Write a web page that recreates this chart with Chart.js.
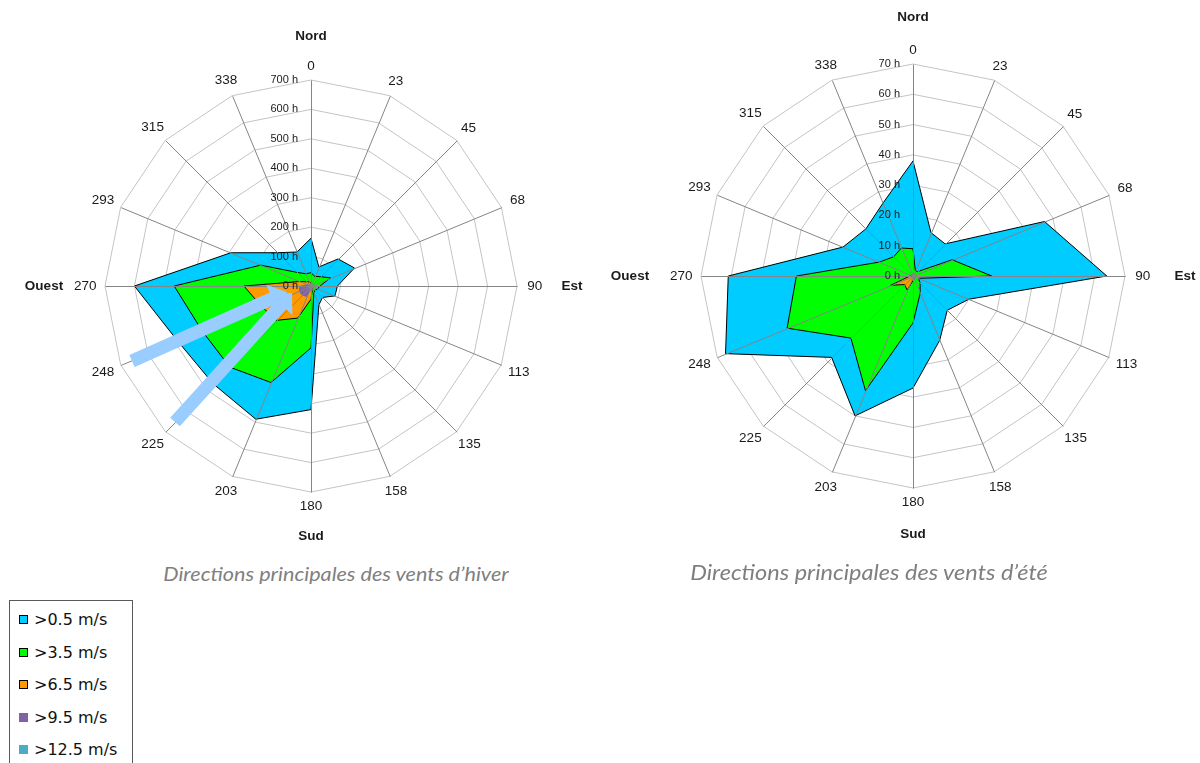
<!DOCTYPE html>
<html>
<head>
<meta charset="utf-8">
<script src="https://cdn.jsdelivr.net/npm/chart.js@4.4.1/dist/chart.umd.min.js"></script>
<style>
  html, body { margin: 0; padding: 0; background: #fff; }
  #page { position: relative; width: 1200px; height: 763px; overflow: hidden; background: #fff; }
  canvas { position: absolute; top: 0; }
  #cHiver { left: 0; }
  #cEte { left: 600px; }
  .caption {
    position: absolute; top: 560px; transform: translateX(-50%) scaleX(1.08);
    font-family: Lato, "Open Sans", sans-serif; font-style: italic; font-size: 20px;
    color: #7f7f7f; white-space: nowrap; line-height: 26px;
  }
  #capEte { font-size: 21px; transform: translateX(-50%) scaleX(1.12); top: 559px; }
  #legend {
    position: absolute; left: 9px; top: 600px; width: 124px; height: 200px;
    border: 1px solid #595959; box-sizing: border-box; background: #fff;
  }
  .row { position: absolute; left: 0; height: 24px; width: 122px; }
  .mark { position: absolute; left: 9px; top: 7px; width: 9px; height: 9px; box-sizing: border-box; }
  .txt {
    position: absolute; left: 24px; top: 0; line-height: 24px; white-space: nowrap;
    font-family: "DejaVu Sans", sans-serif; font-size: 16px; color: #111;
  }
</style>
</head>
<body>
<div id="page">
  <canvas id="cHiver" width="600" height="560"></canvas>
  <canvas id="cEte" width="600" height="560"></canvas>
  <div class="caption" style="left:336px">Directions principales des vents d’hiver</div>
  <div class="caption" id="capEte" style="left:869px">Directions principales des vents d’été</div>
  <div id="legend"></div>
</div>
<script>
// Wind directions (degrees, rounded) shown around each rose
const directions = ['0', '23', '45', '68', '90', '113', '135', '158', '180', '203', '225', '248', '270', '293', '315', '338'];

// Speed classes
const speedClasses = ['>0.5 m/s', '>3.5 m/s', '>6.5 m/s', '>9.5 m/s', '>12.5 m/s'];
const classColors = ['#00CCFF', '#00FF00', '#FF9900', '#8064A2', '#4BACC6'];
const classBorders = [1, 1, 1, 0, 0];

// Winter: hours per direction, by speed class
const hiver05  = [162, 70, 130, 160, 90, 88, 55, 70, 420, 490, 470, 490, 600, 295, 160, 125];
const hiver35  = [45, 35, 45, 72, 30, 25, 20, 25, 210, 355, 390, 400, 465, 185, 65, 45];
const hiver65  = [10, 5, 5, 5, 5, 5, 8, 12, 45, 118, 165, 182, 228, 40, 20, 15];
const hiver95  = [3, 2, 2, 2, 2, 2, 3, 5, 15, 40, 45, 45, 40, 15, 8, 5];
const hiver125 = [1, 0, 0, 0, 0, 0, 1, 1, 3, 5, 8, 8, 6, 3, 2, 1];

// Summer: hours per direction, by speed class
const ete05  = [38, 15.5, 15, 47, 64, 20, 16, 23, 37, 50, 38, 67, 61, 25, 22, 26];
const ete35  = [9, 2, 2, 14, 26, 2, 3.3, 6.2, 15.5, 41, 29, 45, 38.5, 12, 9, 10];
const ete65  = [0.3, 0.2, 0.2, 0.3, 0.5, 0.3, 0.5, 1, 1.5, 5, 4, 8, 1, 0.5, 0.3, 0.3];
const ete95  = [0, 0, 0, 0, 0, 0, 0, 0, 0, 0.3, 0.3, 0.4, 0.2, 0, 0, 0];
const ete125 = [0, 0, 0, 0, 0, 0, 0, 0, 0, 0, 0, 0, 0, 0, 0, 0];

// Radial axis ticks (hours)
const hiverTicks = { max: 700, step: 100 };
const eteTicks = { max: 70, step: 10 };

// Compass names
const compass = ['Nord', 'Est', 'Sud', 'Ouest'];

function drawArrow(ctx, x1, y1, x2, y2, shaftHalf, headHalf, headLen) {
  const dx = x2 - x1, dy = y2 - y1, L = Math.hypot(dx, dy);
  const ux = dx / L, uy = dy / L, nx = -uy, ny = ux;
  const bx = x2 - ux * headLen, by = y2 - uy * headLen;
  ctx.beginPath();
  ctx.moveTo(x1 + nx * shaftHalf, y1 + ny * shaftHalf);
  ctx.lineTo(bx + nx * shaftHalf, by + ny * shaftHalf);
  ctx.lineTo(bx + nx * headHalf, by + ny * headHalf);
  ctx.lineTo(x2, y2);
  ctx.lineTo(bx - nx * headHalf, by - ny * headHalf);
  ctx.lineTo(bx - nx * shaftHalf, by - ny * shaftHalf);
  ctx.lineTo(x1 - nx * shaftHalf, y1 - ny * shaftHalf);
  ctx.closePath();
  ctx.fill();
}

// Spokes over the filled areas, tick labels, direction labels, compass names, arrows
const roseDecor = {
  id: 'roseDecor',
  afterDatasetsDraw(chart, args, o) {
    const s = chart.scales.r;
    const ctx = chart.ctx;
    const cx = s.xCenter, cy = s.yCenter, R = s.drawingArea;
    const n = chart.data.labels.length;
    ctx.save();

    // spokes
    ctx.strokeStyle = '#858585';
    ctx.lineWidth = 1;
    for (let i = 0; i < n; i++) {
      const p = s.getPointPosition(i, R);
      ctx.beginPath();
      ctx.moveTo(cx + 0.5, cy + 0.5);
      ctx.lineTo(p.x + 0.5, p.y + 0.5);
      ctx.stroke();
    }

    // tick labels along the north axis
    ctx.font = '11px "Liberation Sans", Arial, sans-serif';
    ctx.fillStyle = '#1a1a1a';
    ctx.textAlign = 'right';
    ctx.textBaseline = 'middle';
    s.ticks.forEach(t => {
      const d = s.getDistanceFromCenterForValue(t.value);
      ctx.fillText(t.label, cx - 13, cy - d);
    });

    // direction labels
    ctx.font = '13.5px "Liberation Sans", Arial, sans-serif';
    ctx.textAlign = 'center';
    for (let i = 0; i < n; i++) {
      const a = i * 2 * Math.PI / n;
      const w = ctx.measureText(chart.data.labels[i]).width;
      const dist = R + o.gap + 0.25 * w * Math.abs(Math.sin(a));
      const p = s.getPointPosition(i, dist);
      ctx.fillText(chart.data.labels[i], p.x, p.y);
    }

    // compass names
    ctx.font = 'bold 13.5px "Liberation Sans", Arial, sans-serif';
    const off = o.compassOffsets;
    ctx.fillText(compass[0], cx, cy - off[0]);
    ctx.fillText(compass[1], cx + off[1], cy);
    ctx.fillText(compass[2], cx, cy + off[2]);
    ctx.fillText(compass[3], cx - off[3], cy);

    // prevailing wind arrows
    ctx.fillStyle = '#99CCFF';
    (o.arrows || []).forEach(ar => {
      drawArrow(ctx, cx + ar.from[0], cy + ar.from[1], cx + ar.to[0], cy + ar.to[1], 6.5, 15, 16);
    });

    ctx.restore();
  }
};

function makeRose(id, series, ticks, padding, decor) {
  const datasets = series.map((vals, k) => ({
    label: speedClasses[k],
    data: vals,
    backgroundColor: classColors[k],
    borderColor: '#000000',
    borderWidth: classBorders[k],
    fill: true,
    order: series.length - k,
    pointRadius: 0,
    pointHoverRadius: 0,
    tension: 0
  }));
  return new Chart(document.getElementById(id), {
    type: 'radar',
    data: { labels: directions, datasets },
    options: {
      responsive: false,
      animation: false,
      devicePixelRatio: 1,
      layout: { padding },
      plugins: { legend: { display: false }, tooltip: { enabled: false }, roseDecor: decor },
      scales: {
        r: {
          min: 0,
          max: ticks.max,
          beginAtZero: true,
          ticks: { display: false, stepSize: ticks.step, callback: v => v + ' h' },
          pointLabels: { display: false },
          angleLines: { display: false },
          grid: { color: '#c4c4c4', lineWidth: 1, circular: false }
        }
      }
    },
    plugins: [roseDecor]
  });
}

makeRose('cHiver', [hiver05, hiver35, hiver65, hiver95, hiver125], hiverTicks,
  { left: 105, top: 80, right: 83, bottom: 68 },
  {
    gap: 14,
    compassOffsets: [250, 261, 250, 267],
    arrows: [
      { from: [-179, 75], to: [-24, 6] },
      { from: [-136, 136], to: [-19, 7] }
    ]
  });

makeRose('cEte', [ete05, ete35, ete65, ete95, ete125], eteTicks,
  { left: 101, top: 64, right: 75, bottom: 72 },
  { gap: 14, compassOffsets: [259, 272, 258, 283], arrows: [] });

// Legend
const legend = document.getElementById('legend');
speedClasses.forEach((name, k) => {
  const row = document.createElement('div');
  row.className = 'row';
  row.style.top = (7 + k * 32.5) + 'px';
  const m = document.createElement('div');
  m.className = 'mark';
  m.style.background = classColors[k];
  if (classBorders[k]) m.style.border = '1px solid #000';
  const t = document.createElement('div');
  t.className = 'txt';
  t.textContent = name;
  row.appendChild(m);
  row.appendChild(t);
  legend.appendChild(row);
});
</script>
</body>
</html>
